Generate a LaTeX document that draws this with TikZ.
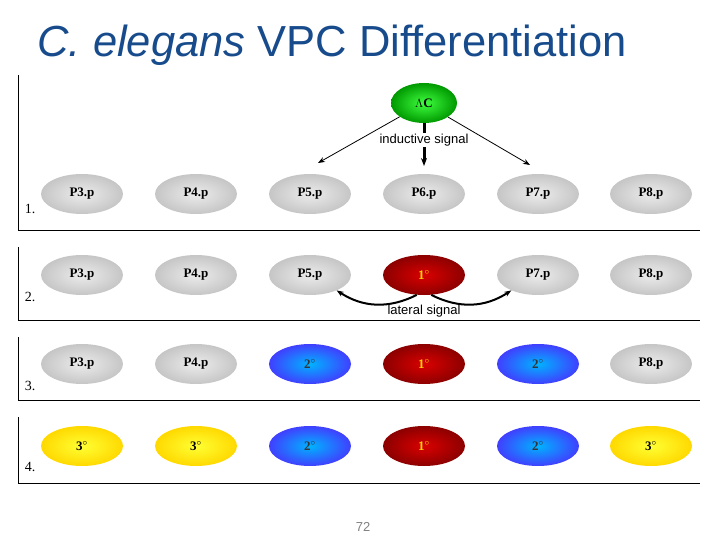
\documentclass[tikz,border=0pt]{standalone}
\usepackage{fontspec}
\setsansfont{Liberation Sans}
\setmainfont{Liberation Serif}
\usetikzlibrary{shapes.geometric,arrows.meta}
\definecolor{titleblue}{RGB}{23,75,140}
\tikzset{
  cell/.style={ellipse, minimum width=82pt, minimum height=40pt, inner sep=0pt, font=\bfseries\fontsize{13}{15}\selectfont},
  grey/.style={cell, inner color=gray!15, outer color=gray!45},
  prim/.style={cell, inner color=red!85!black, outer color=red!55!black, text=yellow!70!orange},
  sec/.style={cell, inner color=cyan!70!blue, outer color=blue!75, text=black!80},
  ter/.style={cell, inner color=yellow!80, outer color=yellow!70!orange},
  panel/.style={line width=0.8pt},
  num/.style={font=\fontsize{14}{16}\selectfont},
  sig/.style={-{Stealth[length=7pt]}, thick}
}
\begin{document}
\begin{tikzpicture}[x=1pt, y=-1pt]
  \useasboundingbox (0,0) rectangle (720,540);
  \node[anchor=west, font=\sffamily\fontsize{43.5}{48}\selectfont, text=titleblue] (title) at (34,45) {\textit{C. elegans} VPC Differentiation};

  % panels
  \draw[panel] (18,75) -- (18,230) -- (700,230);
  \draw[panel] (18,247) -- (18,320) -- (700,320);
  \draw[panel] (18,337) -- (18,400) -- (700,400);
  \draw[panel] (18,417) -- (18,483) -- (700,483);
  \node[num] (n1) at (30,209) {1.};
  \node[num] (n2) at (30,297) {2.};
  \node[num] (n3) at (30,386) {3.};
  \node[num] (n4) at (30,467) {4.};

  % row 1
  \node[grey] (a3) at (82,194) {P3.p};
  \node[grey] (a4) at (196,194) {P4.p};
  \node[grey] (a5) at (310,194) {P5.p};
  \node[grey] (a6) at (424,194) {P6.p};
  \node[grey] (a7) at (538,194) {P7.p};
  \node[grey] (a8) at (651,194) {P8.p};
  \node[cell, minimum width=66pt, inner color=green!75, outer color=green!60!black] (ac) at (424,103) {$\Lambda$C};
  \coordinate (t5) at (318,163);
  \coordinate (t6) at (424,166);
  \coordinate (t7) at (530,165);
  \draw[sig] (ac) -- (t5);
  \draw[sig] (ac) -- (t7);
  \draw[-{Stealth[length=8pt]}, line width=3pt] (ac.south) -- (t6);
  \node[fill=white, inner sep=1pt, font=\sffamily\fontsize{13}{15}\selectfont] (ind) at (424,140) {inductive signal};

  % row 2
  \node[grey] (b3) at (82,275) {P3.p};
  \node[grey] (b4) at (196,275) {P4.p};
  \node[grey] (b5) at (310,275) {P5.p};
  \node[prim] (b6) at (424,275) {1$^\circ$};
  \node[grey] (b7) at (538,275) {P7.p};
  \node[grey] (b8) at (651,275) {P8.p};
  \draw[-{Stealth[length=7pt]}, line width=2pt] (b6.250) to[bend left=30] (b5.-30);
  \draw[-{Stealth[length=7pt]}, line width=2pt] (b6.290) to[bend right=30] (b7.210);
  \node[font=\sffamily\fontsize{13}{15}\selectfont] (lat) at (424,311) {lateral signal};

  % row 3
  \node[grey] (c3) at (82,364) {P3.p};
  \node[grey] (c4) at (196,364) {P4.p};
  \node[sec] (c5) at (310,364) {2$^\circ$};
  \node[prim] (c6) at (424,364) {1$^\circ$};
  \node[sec] (c7) at (538,364) {2$^\circ$};
  \node[grey] (c8) at (651,364) {P8.p};

  % row 4
  \node[ter] (d3) at (82,446) {3$^\circ$};
  \node[ter] (d4) at (196,446) {3$^\circ$};
  \node[sec] (d5) at (310,446) {2$^\circ$};
  \node[prim] (d6) at (424,446) {1$^\circ$};
  \node[sec] (d7) at (538,446) {2$^\circ$};
  \node[ter] (d8) at (651,446) {3$^\circ$};

  \node[font=\sffamily\fontsize{13}{15}\selectfont, text=gray] (page) at (363,527) {72};
\end{tikzpicture}
\end{document}
